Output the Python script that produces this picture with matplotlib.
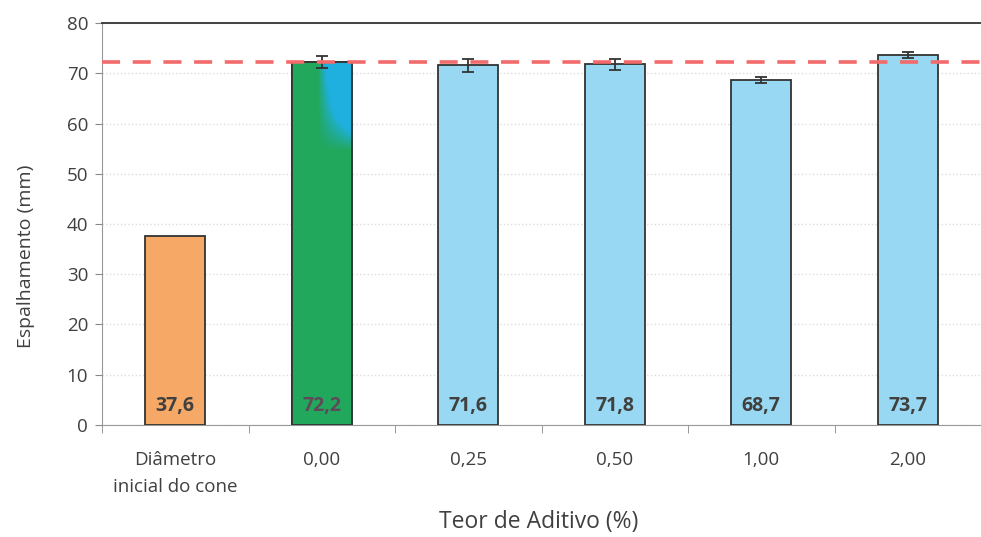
import numpy as np
import matplotlib.pyplot as plt
from matplotlib.colors import LinearSegmentedColormap

plt.rcParams['font.family'] = ['Open Sans', 'DejaVu Sans']

categorias = ['Diâmetro\ninicial do cone', '0,00', '0,25', '0,50', '1,00', '2,00']
espalhamento = [37.6, 72.2, 71.6, 71.8, 68.7, 73.7]
desvio = [0.0, 1.2, 1.3, 1.1, 0.6, 0.6]
rotulos = ['37,6', '72,2', '71,6', '71,8', '68,7', '73,7']
referencia = 72.2

cores = ['#f6a966', '#22a85c', '#98d8f2', '#98d8f2', '#98d8f2', '#98d8f2']
cor_texto = '#404040'

fig = plt.figure(figsize=(9.81, 5.37), dpi=100)
ax = fig.add_axes([0.104, 0.209, 0.896, 0.748])

x = np.arange(len(categorias))
barras = ax.bar(x, espalhamento, width=0.41, color=cores, edgecolor='#333333',
                linewidth=1.3, zorder=3)

# mancha azulada no topo da barra verde
grad = np.zeros((80, 20))
for i in range(80):
    for j in range(20):
        v = max(0, (i - 60) / 10) * max(0, (j - 8) / 6)
        grad[i, j] = min(1, v * 1.3)
cmap = LinearSegmentedColormap.from_list('gb', ['#22a85c', '#1fb0e0'])
b = barras[1]
img = ax.imshow(grad, extent=[b.get_x(), b.get_x() + b.get_width(), 0, b.get_height()],
                origin='lower', aspect='auto', cmap=cmap, vmin=0, vmax=1, zorder=3.1,
                interpolation='bilinear')
img.set_clip_path(b)
ax.bar(x[1], espalhamento[1], width=0.41, color='none', edgecolor='#333333',
       linewidth=1.3, zorder=3.2)

ax.errorbar(x[1:], espalhamento[1:], yerr=desvio[1:], fmt='none', ecolor='#333333',
            elinewidth=1.3, capsize=4, capthick=1.3, zorder=4)

ax.axhline(referencia, color='#f26a6a', linestyle=(0, (5, 3.5)), linewidth=2.6, zorder=5)

cores_rotulo = ['#404040', '#5e4a58', '#404040', '#404040', '#404040', '#404040']
for xi, r, c in zip(x, rotulos, cores_rotulo):
    ax.text(xi, 3.8, r, ha='center', va='center', fontsize=14, fontweight='bold',
            color=c, zorder=6)

ax.set_ylim(0, 80)
ax.set_xlim(-0.5, 5.455)
ax.set_yticks(range(0, 81, 10))
ax.set_xticks(x)
ax.set_xticklabels(categorias, fontsize=13.5, color=cor_texto, linespacing=1.65)
ax.set_xticks(np.arange(-0.5, 6, 1), minor=True)
ax.tick_params(axis='x', which='major', length=0, pad=19)
ax.tick_params(axis='x', which='minor', length=6, color='#888888', direction='out')
ax.tick_params(axis='y', labelsize=13.5, labelcolor=cor_texto, length=5,
               color='#888888', pad=5)

ax.grid(axis='y', color='#dddddd', linestyle=':', linewidth=1, zorder=0)
for s in ['left', 'bottom']:
    ax.spines[s].set_color('#999999')
ax.spines['right'].set_visible(False)
ax.spines['top'].set_color('#333333')
ax.spines['top'].set_linewidth(1.3)

ax.set_ylabel('Espalhamento (mm)', fontsize=14, color=cor_texto)
ax.yaxis.set_label_coords(-0.076, 0.42)
ax.set_xlabel('Teor de Aditivo (%)', fontsize=16.5, color=cor_texto, va='center')
ax.xaxis.set_label_coords(0.497, -0.241)

fig.savefig('out.png', dpi=100)
